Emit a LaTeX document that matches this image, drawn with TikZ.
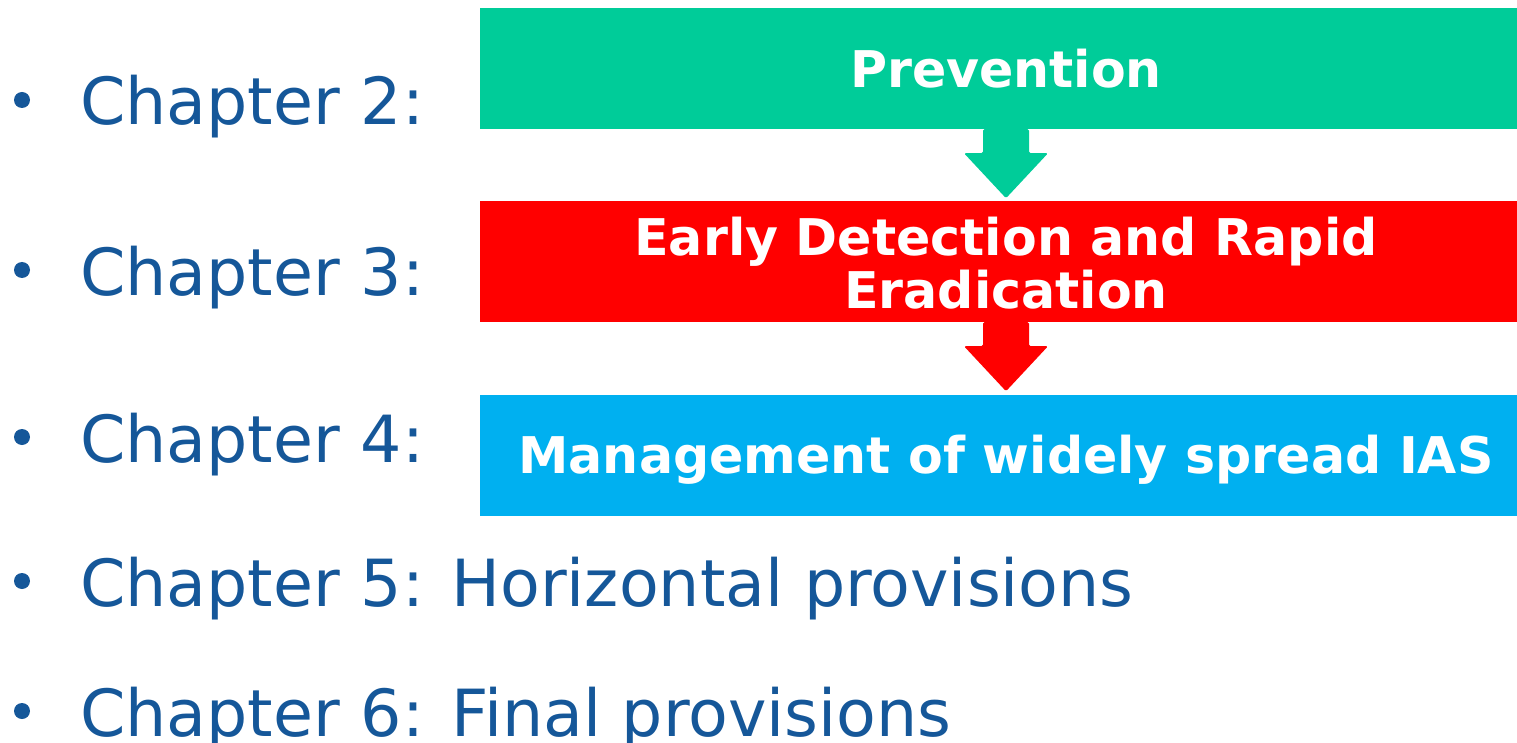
\documentclass[tikz,border=0pt]{standalone}
\usepackage{fontspec}
\setmainfont{DejaVu Sans}
\usetikzlibrary{calc}
\definecolor{cgreen}{HTML}{00CC99}
\definecolor{cred}{HTML}{FF0000}
\definecolor{cblue}{HTML}{00B0F0}
\definecolor{ctext}{HTML}{155799}
\tikzset{
  box/.style={rectangle, inner sep=0pt, minimum width=1052pt, minimum height=121pt},
  lbl/.style={inner sep=0pt, text=white, font=\fontsize{50.6}{54}\selectfont\bfseries, align=center},
  chap/.style={inner sep=0pt, anchor=base west, text=ctext, font=\fontsize{65}{80}\selectfont},
  bul/.style={circle, fill=ctext, inner sep=0pt, minimum size=16pt},
  flowarrow/.style={rounded corners=1.5pt}
}
\begin{document}
\begin{tikzpicture}[x=1pt,y=-1pt]
\useasboundingbox (0,0) rectangle (1517,743);
\clip (0,0) rectangle (1517,743);
% boxes
\node[box, fill=cgreen] (prev) at (1006,68.5) {};
\node[box, fill=cred] (early) at (1006,261.5) {};
\node[box, fill=cblue] (mgmt) at (1006,455.5) {};
% arrows
\fill[cgreen, flowarrow] ([xshift=-23pt]prev.south) -- ++(0,24) -- ++(-19,0) -- ++(42,45) -- ++(42,-45) -- ++(-19,0) -- ++(0,-24) -- cycle;
\fill[cred, flowarrow] ([xshift=-23pt]early.south) -- ++(0,24) -- ++(-19,0) -- ++(42,45) -- ++(42,-45) -- ++(-19,0) -- ++(0,-24) -- cycle;
% labels
\node[lbl, anchor=base] (tprev) at (1006,88) {Prevention};
\node[lbl, anchor=base] (tearly1) at (1006,255) {Early Detection and Rapid};
\node[lbl, anchor=base] (tearly2) at (1006,308) {Eradication};
\node[lbl, anchor=base] (tmgmt) at (1006,473) {Management of widely spread IAS};
% chapters
\node[bul] (b2) at (22,100) {};
\node[bul] (b3) at (22,270) {};
\node[bul] (b4) at (22,437) {};
\node[bul] (b5) at (22,581) {};
\node[bul] (b6) at (22,711) {};
\node[chap] (c2) at (80,125) {Chapter 2:};
\node[chap] (c3) at (80,295) {Chapter 3:};
\node[chap] (c4) at (80,462) {Chapter 4:};
\node[chap] (c5) at (80,606) {Chapter 5: Horizontal provisions};
\node[chap] (c6) at (80,736) {Chapter 6: Final provisions};
\end{tikzpicture}
\end{document}
